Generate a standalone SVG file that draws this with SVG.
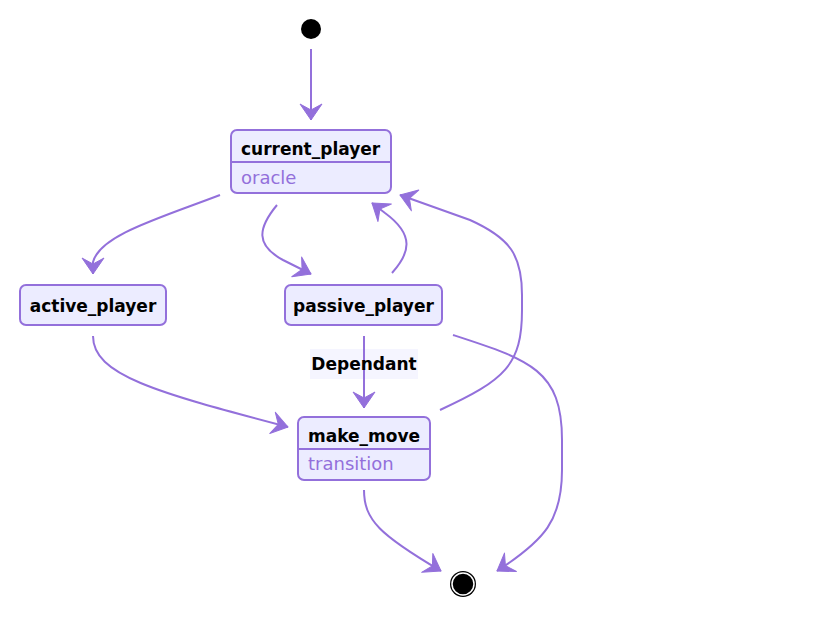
<svg xmlns="http://www.w3.org/2000/svg" width="834" height="628" viewBox="0 0 834 628">
<style>
.box{fill:#ECECFF;stroke:#9370DB;stroke-width:2}
.div{stroke:#9370DB;stroke-width:2}
.t{font-family:"DejaVu Sans",Verdana,sans-serif;font-size:17px;font-weight:bold;fill:#000}
.d{font-family:"DejaVu Sans",Verdana,sans-serif;font-size:18px;fill:#9370DB}
.e{fill:none;stroke:#9370DB;stroke-width:2;marker-end:url(#barb)}
.lbl{font-family:"DejaVu Sans",Verdana,sans-serif;font-size:17px;font-weight:bold;fill:#000}
</style>
<defs>
<marker id="barb" markerUnits="userSpaceOnUse" markerWidth="22" markerHeight="26" refX="20" refY="13" orient="auto" viewBox="0 0 22 26">
<path d="M20,13 L4,24 L10,13 L4,2 Z" fill="#9370DB" stroke="#9370DB" stroke-linejoin="round"/>
</marker>
</defs>
<g id="edges">
<path class="e" d="M311,49 L311,120"/>
<path class="e" d="M220,195 C160,218 100,235 93,262 L93,274"/>
<path class="e" d="M277,205 C258,228 255,245 283,260 L311,274"/>
<path class="e" d="M392,273 C410,253 415,235 385,213 L372,203"/>
<path class="e" d="M440,410 C505,380 522,365 522,310 L522,295 C522,255 510,238 470,220 L400,195"/>
<path class="e" d="M93,336 C93,375 155,392 288,427"/>
<rect x="310" y="349" width="108" height="30" fill="#ECECFF" opacity="0.5"/>
<path class="e" d="M364,336 L364,408"/>
<text class="lbl" x="364" y="370" text-anchor="middle">Dependant</text>
<path class="e" d="M453,335 C530,360 562,370 562,440 L562,470 C562,520 545,540 497,571"/>
<path class="e" d="M364,490 C364,520 380,535 441,571"/>
</g>
<g id="start"><circle cx="311" cy="29" r="10" fill="#000"/></g>
<g id="current_player">
<rect class="box" x="231" y="130" width="160" height="63" rx="6"/>
<line class="div" x1="231" y1="162" x2="391" y2="162"/>
<text class="t" x="241" y="155">current_player</text>
<text class="d" x="241" y="184">oracle</text>
</g>
<g id="active_player">
<rect class="box" x="20" y="285" width="146" height="40" rx="6"/>
<text class="t" x="93" y="312" text-anchor="middle">active_player</text>
</g>
<g id="passive_player">
<rect class="box" x="285" y="285" width="157" height="40" rx="6"/>
<text class="t" x="363.5" y="312" text-anchor="middle">passive_player</text>
</g>
<g id="make_move">
<rect class="box" x="298" y="417" width="132" height="63" rx="6"/>
<line class="div" x1="298" y1="449" x2="430" y2="449"/>
<text class="t" x="308" y="442">make_move</text>
<text class="d" x="308" y="470">transition</text>
</g>
<g id="end">
<circle cx="463" cy="584" r="13" fill="#000"/>
<circle cx="463" cy="584" r="11" fill="none" stroke="#fff" stroke-width="1.5"/>
</g>
</svg>
